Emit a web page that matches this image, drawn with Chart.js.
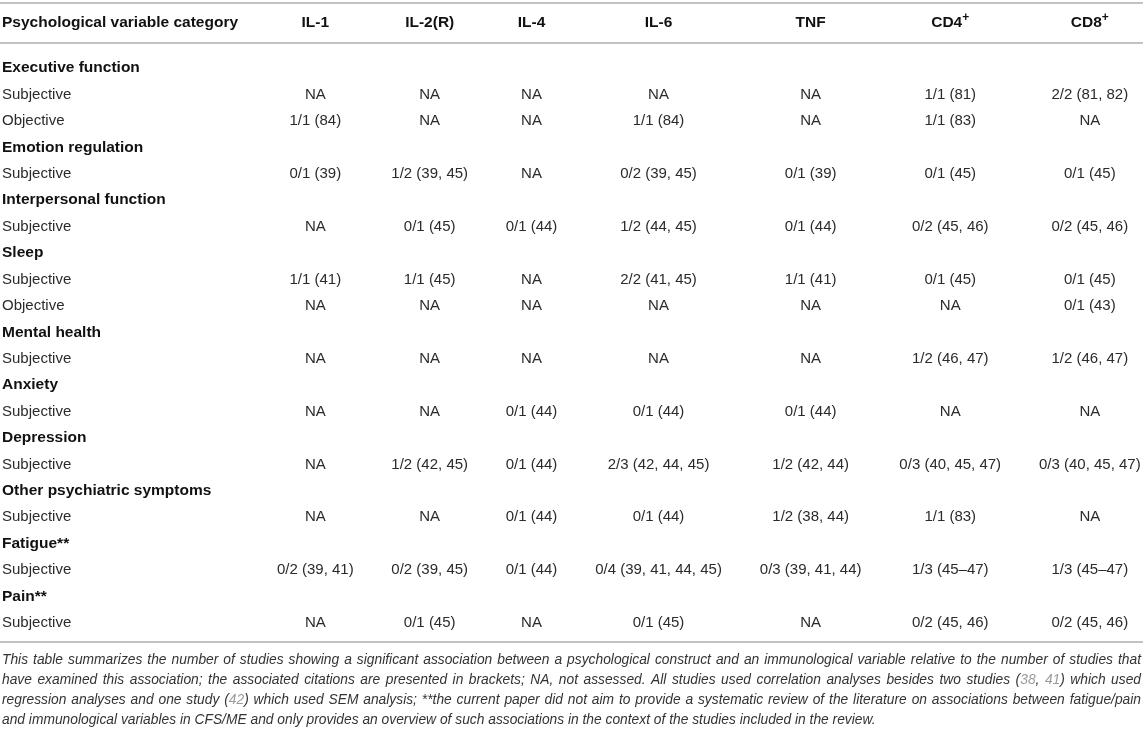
<!DOCTYPE html>
<html>
<head>
<meta charset="utf-8">
<script src="https://cdn.jsdelivr.net/npm/chart.js@4.4.0/dist/chart.umd.min.js"></script>
<style>
    html, body { margin: 0; padding: 0; background: #fff; }
</style>
</head>
<body>
<canvas id="tablechart" width="1143" height="730"></canvas>
<script>
// column headers and row structure
const firstHeader = "Psychological variable category";
const columns = ["IL-1", "IL-2(R)", "IL-4", "IL-6", "TNF", "CD4+", "CD8+"];
const categories = ["Executive function", "Emotion regulation", "Interpersonal function", "Sleep",
    "Mental health", "Anxiety", "Depression", "Other psychiatric symptoms", "Fatigue**", "Pain**"];
const measures = [["Subjective", "Objective"], ["Subjective"], ["Subjective"], ["Subjective", "Objective"],
    ["Subjective"], ["Subjective"], ["Subjective"], ["Subjective"], ["Subjective"], ["Subjective"]];

// one list per column, one entry per measure row (top to bottom)
const il1 = ["NA", "1/1 (84)", "0/1 (39)", "NA", "1/1 (41)", "NA", "NA", "NA", "NA", "NA", "0/2 (39, 41)", "NA"];
const il2r = ["NA", "NA", "1/2 (39, 45)", "0/1 (45)", "1/1 (45)", "NA", "NA", "NA", "1/2 (42, 45)", "NA", "0/2 (39, 45)", "0/1 (45)"];
const il4 = ["NA", "NA", "NA", "0/1 (44)", "NA", "NA", "NA", "0/1 (44)", "0/1 (44)", "0/1 (44)", "0/1 (44)", "NA"];
const il6 = ["NA", "1/1 (84)", "0/2 (39, 45)", "1/2 (44, 45)", "2/2 (41, 45)", "NA", "NA", "0/1 (44)", "2/3 (42, 44, 45)", "0/1 (44)", "0/4 (39, 41, 44, 45)", "0/1 (45)"];
const tnf = ["NA", "NA", "0/1 (39)", "0/1 (44)", "1/1 (41)", "NA", "NA", "0/1 (44)", "1/2 (42, 44)", "1/2 (38, 44)", "0/3 (39, 41, 44)", "NA"];
const cd4 = ["1/1 (81)", "1/1 (83)", "0/1 (45)", "0/2 (45, 46)", "0/1 (45)", "NA", "1/2 (46, 47)", "NA", "0/3 (40, 45, 47)", "1/1 (83)", "1/3 (45\u201347)", "0/2 (45, 46)"];
const cd8 = ["2/2 (81, 82)", "NA", "0/1 (45)", "0/2 (45, 46)", "0/1 (45)", "0/1 (43)", "1/2 (46, 47)", "NA", "0/3 (40, 45, 47)", "NA", "1/3 (45\u201347)", "0/2 (45, 46)"];
const series = [il1, il2r, il4, il6, tnf, cd4, cd8];

// footnote lines, {..} marks a citation number
const footnote = [
    "This table summarizes the number of studies showing a significant association between a psychological construct and an immunological variable relative to the number of studies that",
    "have examined this association; the associated citations are presented in brackets; NA, not assessed. All studies used correlation analyses besides two studies ({38}, {41}) which used",
    "regression analyses and one study ({42}) which used SEM analysis; **the current paper did not aim to provide a systematic review of the literature on associations between fatigue/pain",
    "and immunological variables in CFS/ME and only provides an overview of such associations in the context of the studies included in the review."
];

const FAMILY = "'Liberation Sans', Arial, Helvetica, sans-serif";
const bodyFont = "15px " + FAMILY;
const boldFont = "bold 15.5px " + FAMILY;
const supFont = "bold 12px " + FAMILY;
const noteFont = "italic 13.8px " + FAMILY;
const PAD = 37;
const INSET = 2;

// measure text to lay the columns out like an auto table
const mctx = document.createElement("canvas").getContext("2d");
function textW(txt, font) {
    mctx.font = font;
    return mctx.measureText(txt).width;
}

// flatten rows: category heading followed by its measures
let rows = [];
categories.forEach((c, i) => {
    rows.push({ label: c, bold: true });
    measures[i].forEach((m) => rows.push({ label: m, bold: false }));
});
let measureRows = [];
rows.forEach((r, i) => { if (!r.bold) measureRows.push(i); });

let firstW = Math.max(textW(firstHeader, boldFont), ...categories.map((c) => textW(c, boldFont))) + INSET + PAD / 2;
let colW = series.map((s, j) => Math.max(textW(columns[j], boldFont), ...s.map((v) => textW(v, bodyFont))) + PAD);
let acc = firstW;
let colCenter = colW.map((w) => { let c = acc + w / 2; acc += w; return c; });
let tableW = acc - PAD / 2 + INSET;

// one point per cell
let points = [];
let cellText = [];
series.forEach((s, j) => {
    s.forEach((v, k) => {
        points.push({ x: colCenter[j], y: measureRows[k] });
        cellText.push(v);
    });
});

// vertical layout in row units
const HEADER_Y = -1.7;
const TOP_RULE = -2.47;
const HEAD_RULE = -0.95;
const BOTTOM_RULE = rows.length - 1 + 0.72;
const NOTE_Y = rows.length - 1 + 1.4;
const NOTE_STEP = 0.757;

function drawNoteLine(ctx, line, left, right, py, justify) {
    let words = line.split(" ").map((w) => {
        let parts = w.split(/(\{[^}]*\})/).filter((p) => p.length);
        return parts.map((p) => p[0] == "{" ? { t: p.slice(1, -1), cite: true } : { t: p, cite: false });
    });
    let widths = words.map((w) => w.reduce((a, p) => a + ctx.measureText(p.t).width, 0));
    let sum = widths.reduce((a, b) => a + b, 0);
    let gap = ctx.measureText(" ").width;
    if (justify) gap = (right - left - sum) / (words.length - 1);
    let px = left;
    words.forEach((w) => {
        w.forEach((p) => {
            ctx.fillStyle = p.cite ? "#9a9a9a" : "#333";
            ctx.fillText(p.t, px, py);
            px += ctx.measureText(p.t).width;
        });
        px += gap;
    });
}

const tablePlugin = {
    id: "tableText",
    afterDatasetsDraw(chart) {
        const ctx = chart.ctx;
        const x = chart.scales.x;
        const y = chart.scales.y;
        ctx.save();

        // horizontal rules
        ctx.strokeStyle = "#c2c2c2";
        ctx.lineWidth = 2;
        [TOP_RULE, HEAD_RULE, BOTTOM_RULE].forEach((v) => {
            let py = Math.round(y.getPixelForValue(v));
            ctx.beginPath();
            ctx.moveTo(x.left, py);
            ctx.lineTo(x.right, py);
            ctx.stroke();
        });

        // header row
        ctx.textBaseline = "middle";
        ctx.fillStyle = "#111";
        ctx.font = boldFont;
        let hy = y.getPixelForValue(HEADER_Y);
        ctx.textAlign = "left";
        ctx.fillText(firstHeader, x.getPixelForValue(INSET), hy);
        columns.forEach((c, j) => {
            let cx = x.getPixelForValue(colCenter[j]);
            if (c.endsWith("+")) {
                let base = c.slice(0, -1);
                ctx.font = boldFont;
                let bw = ctx.measureText(base).width;
                ctx.font = supFont;
                let sw = ctx.measureText("+").width;
                let sx = cx - (bw + sw) / 2;
                ctx.textAlign = "left";
                ctx.font = boldFont;
                ctx.fillText(base, sx, hy);
                ctx.font = supFont;
                ctx.fillText("+", sx + bw, hy - 5);
            } else {
                ctx.textAlign = "center";
                ctx.font = boldFont;
                ctx.fillText(c, cx, hy);
            }
        });

        // row labels
        ctx.textAlign = "left";
        rows.forEach((r, i) => {
            ctx.font = r.bold ? boldFont : bodyFont;
            ctx.fillStyle = r.bold ? "#111" : "#2b2b2b";
            ctx.fillText(r.label, x.getPixelForValue(INSET), y.getPixelForValue(i));
        });

        // cells, placed at the dataset's points
        const meta = chart.getDatasetMeta(0);
        ctx.textAlign = "center";
        ctx.font = bodyFont;
        ctx.fillStyle = "#2b2b2b";
        meta.data.forEach((pt, k) => {
            ctx.fillText(cellText[k], pt.x, pt.y);
        });

        // footnote
        ctx.font = noteFont;
        ctx.textAlign = "left";
        let left = x.getPixelForValue(INSET);
        let right = x.getPixelForValue(tableW) - 2;
        footnote.forEach((line, i) => {
            let py = y.getPixelForValue(NOTE_Y + i * NOTE_STEP);
            drawNoteLine(ctx, line, left, right, py, i < footnote.length - 1);
        });
        ctx.restore();
    },
};

let tableChart = new Chart(document.getElementById("tablechart"), {
    type: "scatter",
    data: {
        datasets: [{ data: points, pointRadius: 0, pointHoverRadius: 0 }],
    },
    options: {
        responsive: false,
        animation: false,
        events: [],
        layout: { padding: 0 },
        plugins: { legend: { display: false }, tooltip: { enabled: false } },
        scales: {
            x: { type: "linear", display: false, min: 0, max: tableW },
            y: { type: "linear", display: false, reverse: true, min: -2.573, max: 25.05 },
        },
    },
    plugins: [tablePlugin],
});
</script>
</body>
</html>
